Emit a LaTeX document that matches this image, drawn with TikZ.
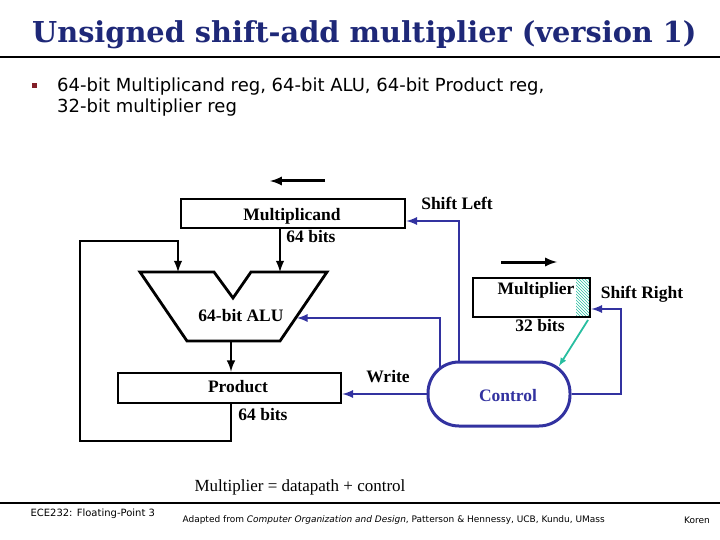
\documentclass[tikz,border=0pt]{standalone}
\usepackage{fontspec}
\setmainfont{Liberation Serif}
\newfontfamily\bodyfont{DejaVu Sans}
\newfontfamily\titlefont{DejaVu Serif}
\usetikzlibrary{patterns,calc}
\definecolor{titleblue}{RGB}{30,40,120}
\definecolor{ctrlblue}{RGB}{50,50,160}
\definecolor{ctrlteal}{RGB}{40,190,160}
\definecolor{bulletred}{RGB}{130,30,40}
\tikzset{
  reg/.style={draw,line width=2.8pt,inner sep=0pt},
  lbl/.style={font=\fontsize{17.5}{19}\selectfont\bfseries,inner sep=0pt},
  data/.style={line width=2.8pt,-latex},
  ctrl/.style={ctrlblue,line width=2.6pt,-latex},
}
\begin{document}
\begin{tikzpicture}[x=1pt,y=-1pt]
\useasboundingbox (0,0) rectangle (720,540);
% Title and bullets
\node[titleblue,font=\titlefont\fontsize{28.8}{34}\selectfont\bfseries,anchor=west,inner sep=0pt] (title) at (32,35) {Unsigned shift-add multiplier (version 1)};
\draw[line width=1.5pt] (0,57) -- (720,57);
\node[fill=bulletred,minimum size=5,inner sep=0pt] (bul) at (34,86) {};
\node[font=\bodyfont\fontsize{18}{21}\selectfont,anchor=north west,align=left,inner sep=0pt] (txt) at (57,78)
  {64-bit Multiplicand reg, 64-bit ALU, 64-bit Product reg,\\32-bit multiplier reg};

% Registers
\node[reg,minimum width=224,minimum height=29] (mcand) at (293,213.5) {};
\node[lbl] (mcandl) at (292,216) {Multiplicand};
\node[lbl] (mcandb) at (311,237) {64 bits};
\node[reg,minimum width=223,minimum height=30] (prod) at (229.5,388) {};
\node[lbl] (prodl) at (238,387) {Product};
\node[lbl] (prodb) at (263,415) {64 bits};
\fill[pattern=north west lines,pattern color=ctrlteal] (576,279) rectangle (589,316);
\node[reg,minimum width=117,minimum height=39] (mplier) at (531.5,297.5) {};
\node[lbl] (mplierl) at (536,290) {Multiplier};
\node[lbl] (mplierb) at (540,326) {32 bits};

% ALU
\draw[line width=2.8pt] (140,272) -- (214,272) -- (233,298) -- (251,272) -- (327,272)
  -- (280,341) -- (187,341) -- cycle;
\coordinate (alutop) at (178,272);
\coordinate (aluin) at (280,272);
\coordinate (aluout) at (231,341);
\coordinate (aluright) at (297,318);
\node[lbl] (alul) at (241,316) {64-bit ALU};

% Control
\node[draw=ctrlblue,line width=3pt,rounded corners=31pt,minimum width=142,minimum height=64] (ctrl) at (499,394) {};
\node[lbl,ctrlblue] (ctrll) at (508,396) {Control};

% Data paths
\draw[data] (mcand.south -| aluin) -- (aluin);
\draw[data] (aluout) -- (aluout |- prod.north);
\draw[data] (prod.south -| aluout) -- (231,441) -- (80,441) -- (80,241) -- (178,241) -- (alutop);

% Control paths
\draw[ctrl] (ctrl.west) -- (ctrl.west -| prod.east);
\node[lbl] (write) at (388,377) {Write};
\draw[ctrl] (440,369) -- (440,318) -- (aluright);
\draw[ctrl] (ctrl.north -| 459,0) -- (459,221) -- (mcand.east |- 0,221);
\node[lbl] (sl) at (457,203) {Shift Left};
\draw[ctrl] (ctrl.east) -- (621,394) -- (621,309) -- (mplier.east |- 0,309);
\node[lbl] (sr) at (642,294) {Shift Right};
\draw[ctrlteal,line width=1.8pt,-latex] (588,320) -- (559,366);

% Direction arrows
\draw[line width=3pt,-latex] (325,181) -- (270,181);
\draw[line width=3pt,-latex] (501,262) -- (557,262);

% Footer
\node[font=\fontsize{17}{19}\selectfont] (eq) at (300,487) {Multiplier = datapath + control};
\draw[line width=2.5pt] (0,503) -- (720,503);
\node[font=\bodyfont\fontsize{10}{12}\selectfont,anchor=west] (f1) at (27,514) {ECE232: Floating-Point 3};
\node[font=\bodyfont\fontsize{9}{11}\selectfont,anchor=west] (f2) at (179,520) {Adapted from \textit{Computer Organization and Design}, Patterson \& Hennessy, UCB, Kundu, UMass};
\node[font=\bodyfont\fontsize{9}{11}\selectfont] (f3) at (697,520) {Koren};
\end{tikzpicture}
\end{document}
